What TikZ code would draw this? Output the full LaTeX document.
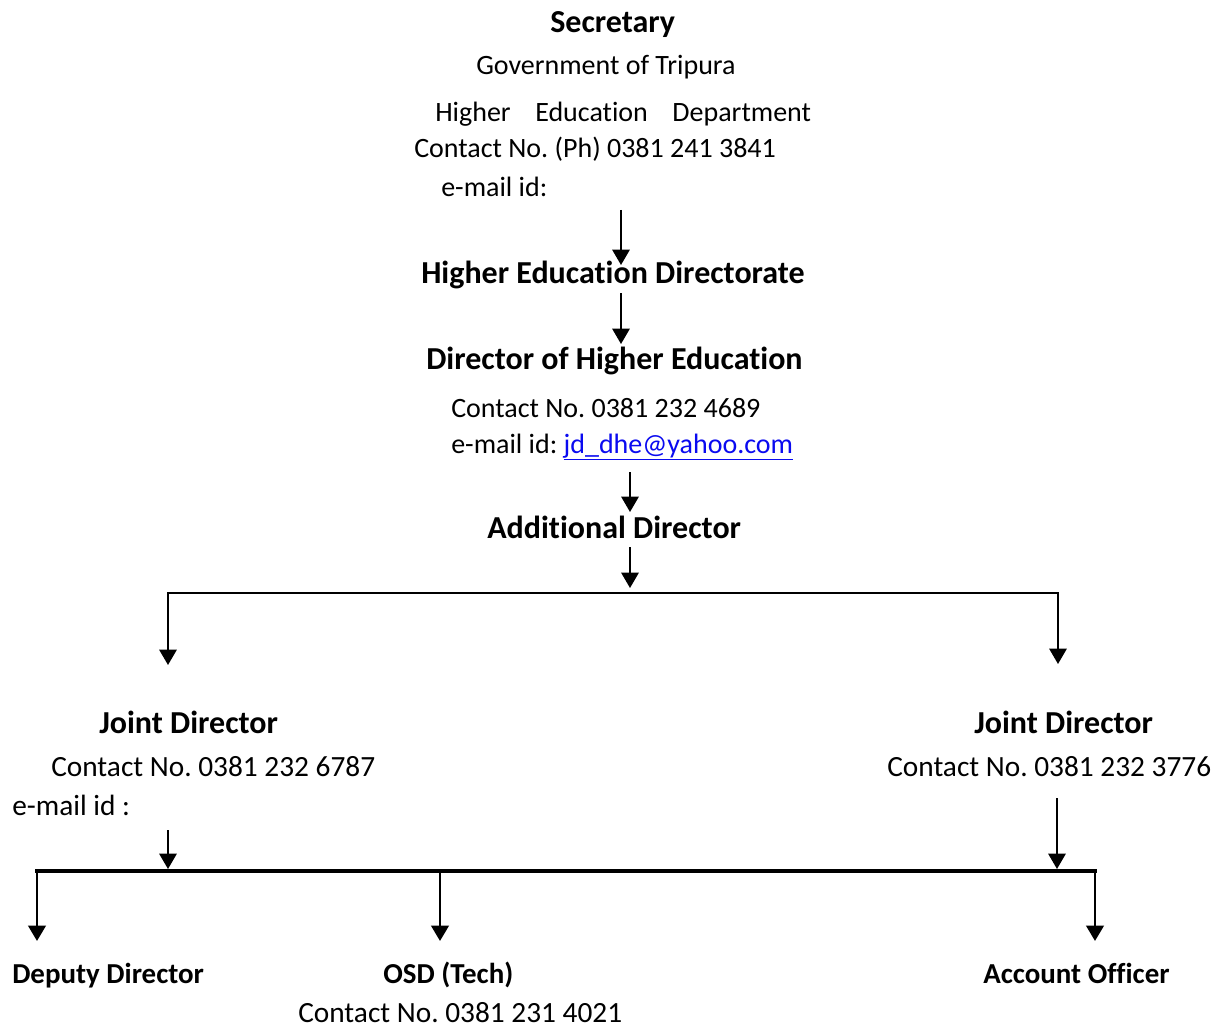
\documentclass[tikz,border=0pt]{standalone}
\usepackage{fontspec}
\setmainfont{Carlito}[Ligatures={NoCommon,NoContextual},Contextuals={NoAlternate}]
\usetikzlibrary{arrows.meta}
\definecolor{linkblue}{RGB}{10,10,240}
\frenchspacing
\begin{document}
\begin{tikzpicture}[x=0.75pt,y=-0.75pt,
  lbl/.style={anchor=base west,inner sep=0pt,font=\fontsize{21}{25}\selectfont},
  lblb/.style={anchor=base west,inner sep=0pt,font=\fontsize{22}{26}\selectfont},
  head/.style={anchor=base west,inner sep=0pt,font=\fontsize{24}{29}\selectfont\bfseries},
  sub/.style={anchor=base west,inner sep=0pt,font=\fontsize{21.7}{26}\selectfont\bfseries},
  arr/.style={-{Triangle[width=13pt,length=11.5pt]},line width=1.5pt},
  arrb/.style={-{Triangle[width=13pt,length=11.5pt]},line width=2.2pt},
  bar/.style={line width=1.5pt,line cap=rect},
  barb/.style={line width=2.5pt,line cap=rect}]
\fill[white] (0,0) rectangle (1218,1027);
\useasboundingbox (0,0) rectangle (1218,1027);

% top block
\node[head] (sec) at (550,33) {Secretary};
\node[lbl] (gov) at (476,75) {Government of Tripura};
\node[lbl] (hed) at (435,122) {Higher\hspace{18.4pt}Education\hspace{18.4pt}Department};
\node[lbl] (c1) at (414,158) {Contact No. (Ph) 0381 241 3841};
\node[lbl] (m1) at (441,197) {e-mail id:};

\node[head] (hedir) at (421,283) {Higher Education Directorate};
\node[head] (dhe) at (426,369) {Director of Higher Education};
\node[lbl] (c2) at (451,417) {Contact No. 0381 232 4689};
\node[lbl] (m2) at (451,453) {e-mail id: {\color{linkblue}\underline{jd\_dhe@yahoo.com}}};
\node[head] (add) at (487,538) {Additional Director};

% joint directors
\node[head] (jd1) at (99,733) {Joint Director};
\node[lblb] (c3) at (51,776) {Contact No. 0381 232 6787};
\node[lblb] (m3) at (12,815) {e-mail id :};
\node[head] (jd2) at (974,733) {Joint Director};
\node[lblb] (c4) at (887,776) {Contact No. 0381 232 3776};

% bottom
\node[sub] (dd) at (12,983) {Deputy Director};
\node[sub] (osd) at (383,983) {OSD (Tech)};
\node[lblb] (c5) at (298,1022) {Contact No. 0381 231 4021};
\node[sub] (ao) at (983,983) {Account Officer};

% coordinates
\coordinate (a1s) at (621,210);  \coordinate (a1e) at (621,265);
\coordinate (a2s) at (621,293);  \coordinate (a2e) at (621,344);
\coordinate (a3s) at (630,472);  \coordinate (a3e) at (630,512);
\coordinate (a4s) at (630,547);  \coordinate (a4e) at (630,588);
\coordinate (hl) at (168,593);   \coordinate (hr) at (1058,593);
\coordinate (jl) at (168,665);   \coordinate (jr) at (1058,664);
\coordinate (b1s) at (168,830);  \coordinate (b1e) at (168,869);
\coordinate (b2s) at (1057,798); \coordinate (b2e) at (1057,869);
\coordinate (bl) at (37,871);    \coordinate (br) at (1095,871);
\coordinate (bm) at (440,871);
\coordinate (dl) at (37,941);    \coordinate (dm) at (440,941);
\coordinate (dr) at (1095,941);

\draw[arr] (a1s) -- (a1e);
\draw[arr] (a2s) -- (a2e);
\draw[arr] (a3s) -- (a3e);
\draw[arr] (a4s) -- (a4e);
\draw[bar] (hl) -- (hr);
\draw[arr] (hl) -- (jl);
\draw[arr] (hr) -- (jr);
\draw[arr] (b1s) -- (b1e);
\draw[arr] (b2s) -- (b2e);
\draw[barb] (bl) -- (br);
\draw[arrb] (bl) -- (dl);
\draw[arrb] (bm) -- (dm);
\draw[arrb] (br) -- (dr);
\end{tikzpicture}
\end{document}
